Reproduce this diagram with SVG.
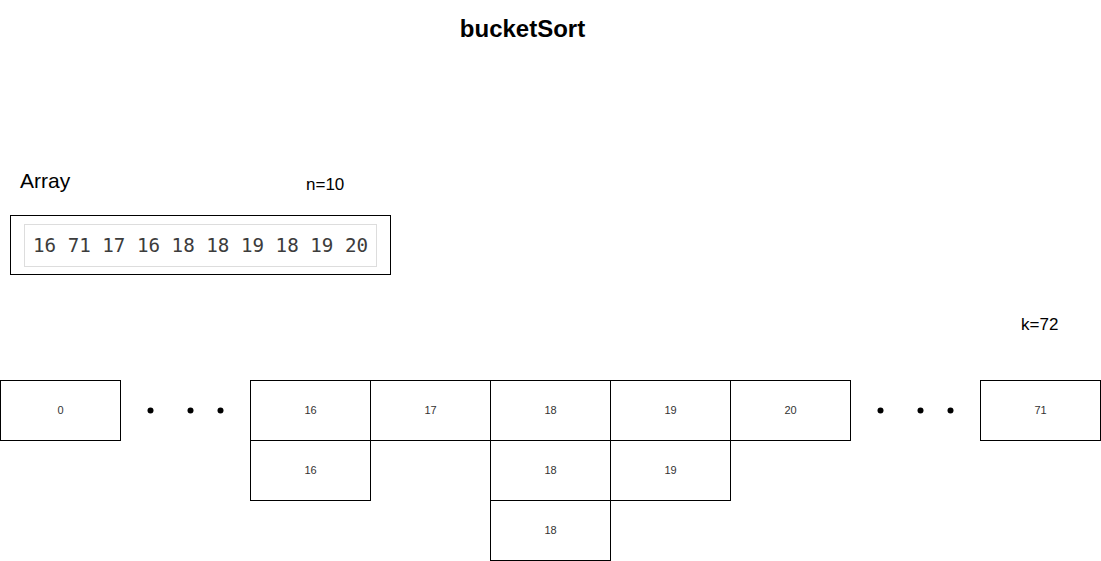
<svg xmlns="http://www.w3.org/2000/svg" width="1101" height="561" viewBox="0 0 1101 561">
<style>
.cell{fill:#fff;stroke:#000;stroke-width:1}
.lbl{font-family:"Liberation Sans",Arial,sans-serif;font-size:11px;fill:#333;text-anchor:middle}
.dot{fill:#000}
.t{font-family:"Liberation Sans",Arial,sans-serif;fill:#000}
</style>
<rect width="1101" height="561" fill="#fff"/>
<text id="title" class="t" x="522.5" y="37" font-size="24" font-weight="bold" text-anchor="middle">bucketSort</text>
<text id="arrayLabel" class="t" x="20" y="188" font-size="21" fill="#1a1a1a">Array</text>
<text id="nLabel" class="t" x="306" y="190" font-size="17" fill="#1a1a1a">n=10</text>
<text id="kLabel" class="t" x="1021" y="330" font-size="17" fill="#1a1a1a">k=72</text>
<g id="array">
<rect x="10.5" y="215.5" width="380" height="59" fill="#fff" stroke="#000"/>
<rect x="24.5" y="224.5" width="352" height="42" fill="#fff" stroke="#ddd"/>
<text x="33" y="252" font-family="'DejaVu Sans Mono','Liberation Mono',monospace" font-size="19" fill="#3c3c3c" textLength="335" lengthAdjust="spacingAndGlyphs">16 71 17 16 18 18 19 18 19 20</text>
</g>
<g id="b0"><rect class="cell" x="0.5" y="380.5" width="120" height="60"/><text class="lbl" x="60.5" y="414">0</text></g>
<g id="b16"><rect class="cell" x="250.5" y="380.5" width="120" height="60"/><text class="lbl" x="310.5" y="414">16</text></g>
<g id="b17"><rect class="cell" x="370.5" y="380.5" width="120" height="60"/><text class="lbl" x="430.5" y="414">17</text></g>
<g id="b18"><rect class="cell" x="490.5" y="380.5" width="120" height="60"/><text class="lbl" x="550.5" y="414">18</text></g>
<g id="b19"><rect class="cell" x="610.5" y="380.5" width="120" height="60"/><text class="lbl" x="670.5" y="414">19</text></g>
<g id="b20"><rect class="cell" x="730.5" y="380.5" width="120" height="60"/><text class="lbl" x="790.5" y="414">20</text></g>
<g id="b71"><rect class="cell" x="980.5" y="380.5" width="120" height="60"/><text class="lbl" x="1040.5" y="414">71</text></g>
<g id="b16-2"><rect class="cell" x="250.5" y="440.5" width="120" height="60"/><text class="lbl" x="310.5" y="474">16</text></g>
<g id="b18-2"><rect class="cell" x="490.5" y="440.5" width="120" height="60"/><text class="lbl" x="550.5" y="474">18</text></g>
<g id="b19-2"><rect class="cell" x="610.5" y="440.5" width="120" height="60"/><text class="lbl" x="670.5" y="474">19</text></g>
<g id="b18-3"><rect class="cell" x="490.5" y="500.5" width="120" height="60"/><text class="lbl" x="550.5" y="534">18</text></g>
<g id="dotsLeft"><circle class="dot" cx="150.5" cy="410.5" r="3"/><circle class="dot" cx="190.5" cy="410.5" r="3"/><circle class="dot" cx="220.5" cy="410.5" r="3"/></g>
<g id="dotsRight"><circle class="dot" cx="880.5" cy="410.5" r="3"/><circle class="dot" cx="920.5" cy="410.5" r="3"/><circle class="dot" cx="950.5" cy="410.5" r="3"/></g>
<g id="connectors"></g>
</svg>
